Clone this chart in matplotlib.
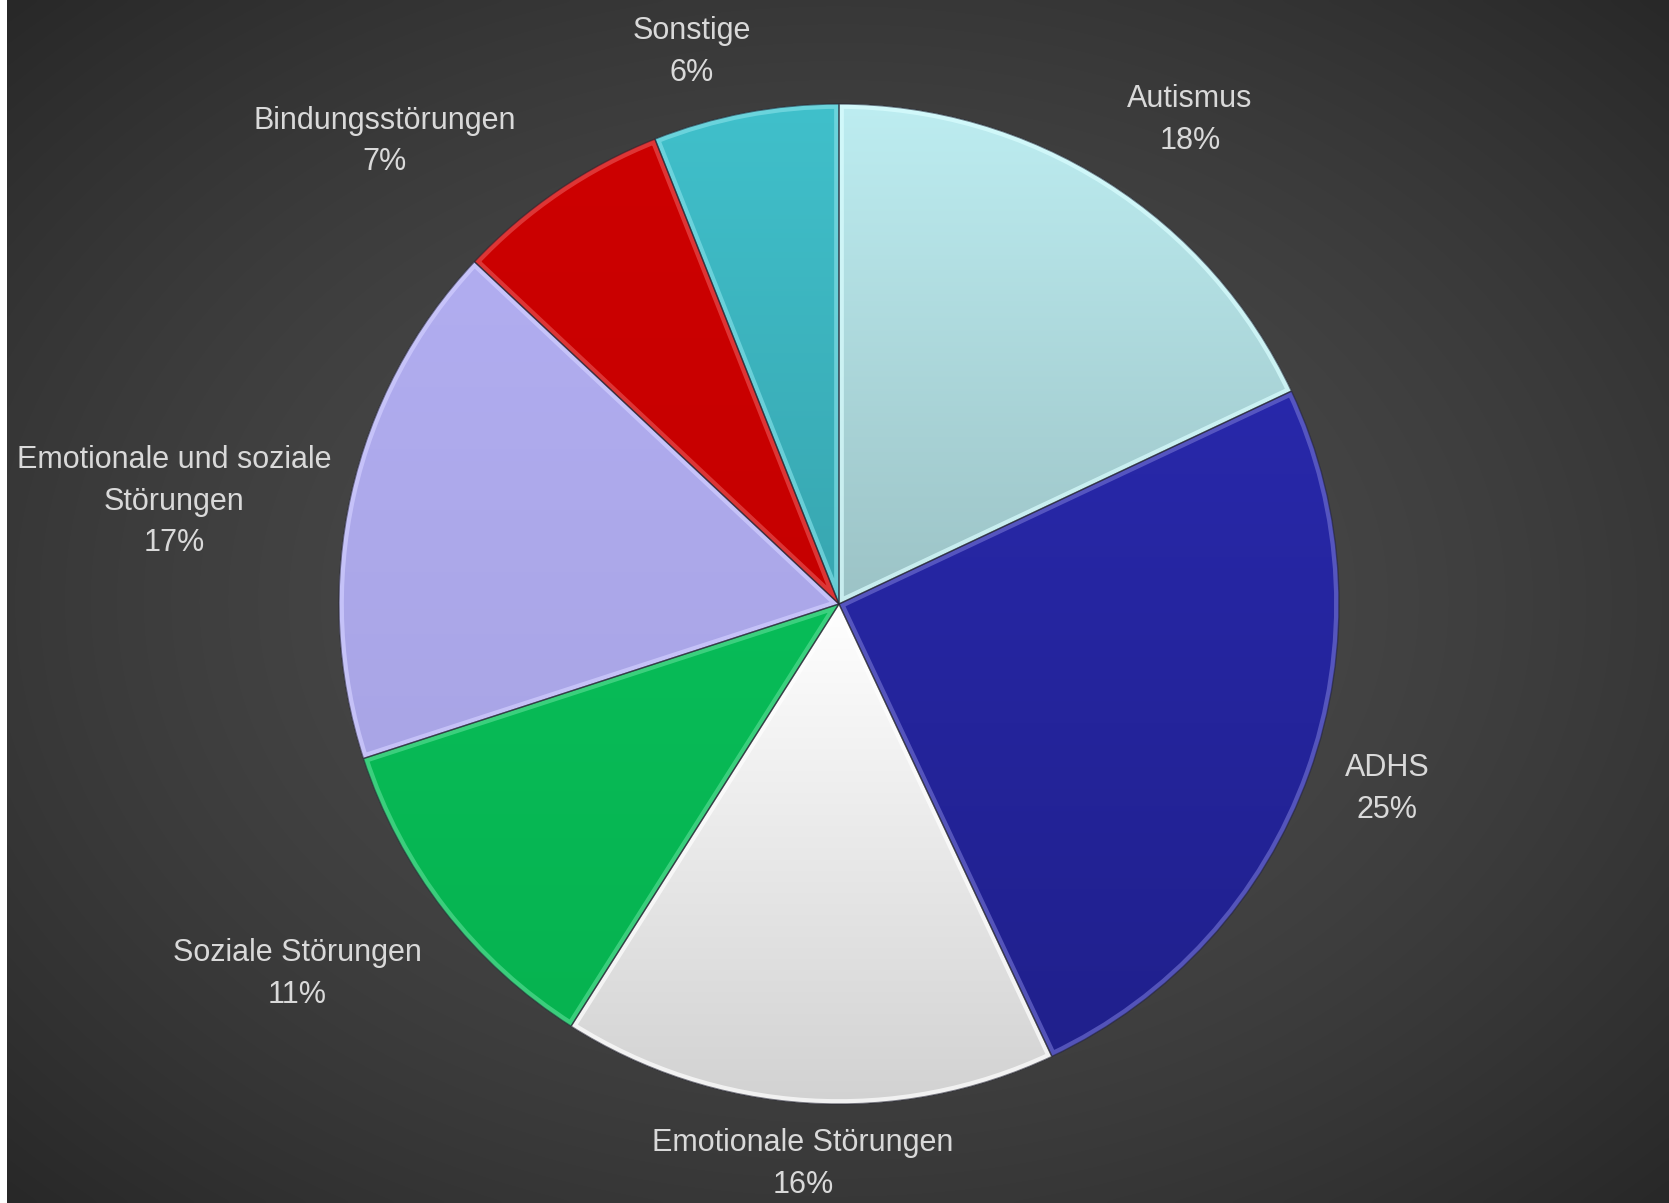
import numpy as np
import matplotlib
matplotlib.use("Agg")
import matplotlib.pyplot as plt
from matplotlib import font_manager
from matplotlib.colors import to_rgb

# data, clockwise from the top
labels = ["Autismus", "ADHS", "Emotionale Störungen", "Soziale Störungen",
          "Emotionale und soziale\nStörungen", "Bindungsstörungen", "Sonstige"]
shares = [18, 25, 16, 11, 17, 7, 6]

# slice colours (top of slice, bottom of slice)
top_cols = ["#bdedf1", "#2828aa", "#ffffff", "#08bc58", "#b1adf0", "#cd0000", "#40c0cb"]
bot_cols = ["#9cc3c6", "#20208c", "#d2d2d2", "#06b350", "#a9a5e6", "#c60000", "#38a6b0"]

# label anchor points in pie-radius units
label_pos = [(0.702, 0.968), (1.096, -0.37), (-0.072, -1.12), (-1.084, -0.74),
             (-1.33, 0.204), (-0.908, 0.925), (-0.294, 1.104)]

names = {f.name for f in font_manager.fontManager.ttflist}
fam = "Liberation Sans Narrow" if "Liberation Sans Narrow" in names else "Liberation Sans"
fsize = 23 if fam.endswith("Narrow") else 22

W, H = 1669, 1203
cx, cy, R = 839, 604, 500
fig = plt.figure(figsize=(W / 100, H / 100), dpi=100)
fig.patch.set_facecolor("white")
ax = fig.add_axes([0, 0, 1, 1])

wedges, _ = ax.pie(shares, startangle=90, counterclock=False, radius=1,
                   colors=top_cols, wedgeprops=dict(linewidth=0))

ax.set_xlim(-cx / R, (W - cx) / R)
ax.set_ylim(-(H - cy) / R, cy / R)
ax.set_aspect("equal", adjustable="box")
ax.axis("off")

# dark radial background (white strip at left / top like the screenshot)
gx, gy = np.meshgrid(np.linspace(0, 1, 400), np.linspace(0, 1, 300))
d = np.sqrt(((gx - 0.5) / 0.5) ** 2 + ((gy - 0.5) / 0.5) ** 2) / np.sqrt(2)
d = np.clip(d, 0, 1) ** 1.6
c_in, c_out = np.array(to_rgb("#4d4d4d")), np.array(to_rgb("#282828"))
bg = c_in[None, None, :] * (1 - d[..., None]) + c_out[None, None, :] * d[..., None]
ax.imshow(bg, extent=((-cx + 7) / R, (W - cx) / R, -(H - cy) / R, (cy - 1) / R),
          origin="upper", zorder=0, interpolation="bicubic", aspect="auto")

for w, ct, cb in zip(wedges, top_cols, bot_cols):
    w.set_zorder(1)
    ext = w.get_path().get_extents(w.get_transform() - ax.transData)
    t = np.linspace(0, 1, 200)[:, None, None]
    grad = np.array(to_rgb(ct))[None, None, :] * (1 - t) + np.array(to_rgb(cb))[None, None, :] * t
    im = ax.imshow(grad, extent=(ext.x0, ext.x1, ext.y0, ext.y1), origin="upper",
                   aspect="auto", zorder=2, interpolation="bilinear")
    im.set_clip_path(w)
    # bevel highlight along the inner edges
    hl = tuple(min(1, c * 0.75 + 0.3) for c in to_rgb(ct))
    bev = matplotlib.patches.Wedge(w.center, w.r, w.theta1, w.theta2, facecolor="none",
                                   edgecolor=hl + (0.7,), linewidth=7, zorder=3)
    ax.add_patch(bev)
    bev.set_clip_path(w)
    edge = matplotlib.patches.Wedge(w.center, w.r, w.theta1, w.theta2, facecolor="none",
                                    edgecolor=(0.15, 0.15, 0.2, 0.6), linewidth=1.0, zorder=4)
    ax.add_patch(edge)

ax.set_xlim(-cx / R, (W - cx) / R)
ax.set_ylim(-(H - cy) / R, cy / R)

for lab, s, (lx, ly) in zip(labels, shares, label_pos):
    ax.text(lx, ly, f"{lab}\n{s}%", ha="center", va="center", color="#d9d9d9",
            fontsize=fsize, family=fam, linespacing=1.5, zorder=5)

fig.savefig("out.png", dpi=100, facecolor=fig.get_facecolor())
